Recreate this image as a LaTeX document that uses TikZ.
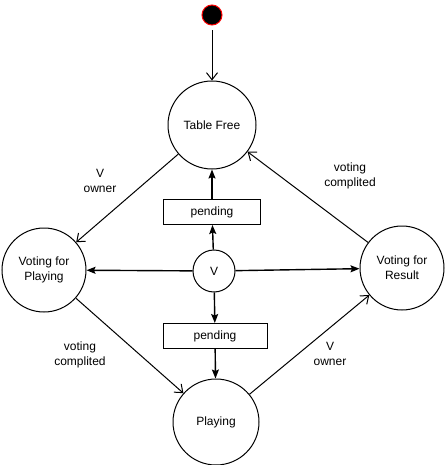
\documentclass[tikz,border=0pt]{standalone}
\usepackage{fontspec}
\setmainfont{Liberation Sans}
\usetikzlibrary{arrows.meta}

\begin{document}
\begin{tikzpicture}[x=1pt,y=-1pt,line width=1pt,
  every node/.style={font=\fontsize{12}{15}\selectfont},
  state/.style={circle,draw,inner sep=0pt,align=center},
  pend/.style={rectangle,draw,minimum height=25pt},
  lbl/.style={align=center},
  openarr/.style={-{Straight Barb[length=7pt,width=11pt]}},
  fillarr/.style={-{Stealth[length=9pt,width=7pt,inset=1.5pt]},line width=1.4pt}]
  \useasboundingbox (0,0) rectangle (445,465);
  % start
  \node[circle,fill=black,draw=red,minimum size=20pt,inner sep=0pt] at (212,15) (S) {};
  % states
  \node[state,minimum size=88pt] at (212,125) (TF) {Table Free};
  \node[state,minimum size=84pt] at (44,270) (VP) {Voting for\\Playing};
  \node[state,minimum size=84pt] at (402,268) (VR) {Voting for\\Result};
  \node[state,minimum size=86pt] at (216,422) (PL) {Playing};
  \node[state,minimum size=42pt] at (214,271) (V) {V};
  % pending boxes
  \node[pend,minimum width=97pt] at (212,212) (P1) {pending};
  \node[pend,minimum width=104pt] at (215,336) (P2) {pending};
  % labels
  \node[lbl] at (100,181) (L1) {V\\owner};
  \node[lbl] at (350,176) (L2) {voting\\complited};
  \node[lbl] at (80,355) (L3) {voting\\complited};
  \node[lbl] at (330,354) (L4) {V\\owner};
  % open arrows
  \draw[openarr,shorten <=5pt] (S) -- (TF);
  \draw[openarr] (TF) -- (VP);
  \draw[openarr] (VR) -- (TF);
  \draw[openarr] (VP) -- (PL);
  \draw[openarr] (PL) -- (VR);
  % arrows from V
  \draw[fillarr] (V) -- (P1);
  \draw[fillarr] (P1) -- (TF);
  \draw[fillarr] (V) -- (VP);
  \draw[fillarr] (V) -- (VR);
  \draw[fillarr] (V) -- (P2);
  \draw[fillarr] (P2) -- (PL);
\end{tikzpicture}
\end{document}
